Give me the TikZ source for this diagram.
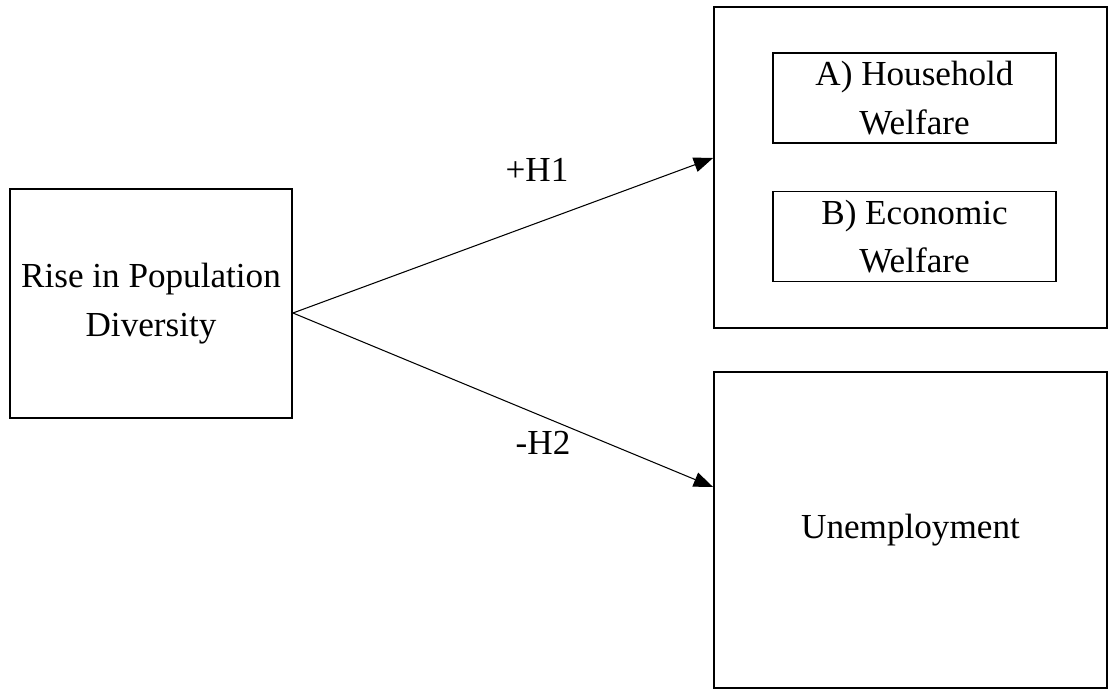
\documentclass[tikz,border=0pt]{standalone}
\usepackage{fontspec}
\setmainfont{Liberation Serif}
\usetikzlibrary{arrows.meta, positioning, calc}

\begin{document}
\begin{tikzpicture}[
    x=0.02cm, y=-0.02cm,
    % --- STYLES ---
    base/.style={draw, line width=1.1pt, align=center, font=\fontsize{20}{27.5}\selectfont},
    bigbox/.style={base, minimum width=7.86cm},
    innerbox/.style={base, minimum width=5.66cm, minimum height=1.8cm},
    hyp/.style={font=\fontsize{20}{27.5}\selectfont},
    arrow/.style={-{Triangle[length=11pt, width=8.5pt]}, line width=0.6pt}
]
    \useasboundingbox (0,0) rectangle (1109,690);

    % ==========================================
    % BOXES
    % ==========================================
    \node[base, minimum width=5.64cm, minimum height=4.58cm] (rise) at (151,303.5) {Rise in Population\\Diversity};
    \node[bigbox, minimum height=6.42cm] (welfare) at (910.5,167.5) {};
    \node[innerbox] (household) at (914.5,98) {A) Household\\Welfare};
    \node[innerbox] (economic) at (914.5,236.5) {B) Economic\\Welfare};
    \node[bigbox, minimum height=6.32cm] (unemp) at (910.5,530) {Unemployment};

    % ==========================================
    % HYPOTHESES
    % ==========================================
    \coordinate (src) at ($(rise.east)+(0,9.5)$);
    \draw[arrow] (src) -- ($(welfare.west)+(0,-9.5)$);
    \draw[arrow] (src) -- ($(unemp.west)+(0,-43)$);

    \node[hyp] (h1) at (537,170) {+H1};
    \node[hyp] (h2) at (543,443) {-H2};

\end{tikzpicture}
\end{document}
